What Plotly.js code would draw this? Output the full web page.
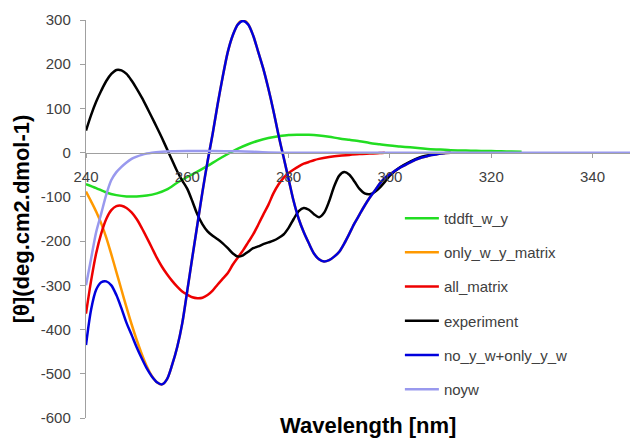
<!DOCTYPE html>
<html>
<head>
<meta charset="utf-8">
<script src="https://cdn.plot.ly/plotly-3.0.1.min.js"></script>
<style>
html,body{margin:0;padding:0;background:#fff;}
#chart{width:630px;height:438px;}
</style>
</head>
<body>
<div id="chart"></div>
<script>
// ---- Data ----
var seriesNames = ["tddft_w_y", "only_w_y_matrix", "all_matrix", "experiment", "no_y_w+only_y_w", "noyw"];

var wlTddft = [240,242,244,246,248,250,252,254,256,258,260,262,264,266,268,270,272,274,276,278,280,282,284,286,288,290,292,294,296,298,300,302,304,306,308,310,312,314,316,318,320,322,324,326];
var tddft = [-71,-80,-90,-96,-99,-99,-97,-92,-83,-68,-55,-43,-30,-16,-3,9,19,27,33,37,40,40.5,40.5,39,36,32,29,26,22,19,16,14,12,10,8,7,5.5,5,4.5,4,3.5,3,2.5,2];

var wlOnlyWY = [240,241,242,243,244,245,246,247,248,249,250,251,252,253,254,255,256,257,258,259,260,261,262,263,264,265,266,267,268,269,270,271,272,273,274,275,276,277,278,279,280,281,282,283,284,285,286,287,288,289,290,291,292,293,294,295,296,297,298,299,300,301,302,303,304,305,306,307,308,309,310,311,312];
var onlyWY = [-88,-110,-133,-160,-192,-230,-270,-310,-350,-388,-423,-455,-483,-505,-519,-524,-512,-480,-440,-386,-312,-236,-162,-88,-20,42,110,172,228,266,291,300,291,265,228,190,145,95,40,-10,-60,-110,-150,-180,-205,-228,-241,-246,-243,-235,-224,-205,-183,-160,-140,-120,-102,-86,-70,-57,-49,-41,-34,-28,-22,-16,-12,-9,-6,-4,-2,-1,0];

var wlAll = [240,241,242,243,244,245,246,247,248,249,250,251,252,253,254,255,256,257,258,259,260,261,262,263,264,265,266,267,268,269,270,271,272,273,274,275,276,277,278,279,280,281,282,283,284,285,286,288,290,292,294,296,298,299];
var allMatrix = [-364,-290,-228,-183,-150,-130,-121,-120,-125,-135,-150,-170,-192,-215,-238,-258,-275,-290,-303,-314,-321,-327,-329,-328,-322,-312,-298,-285,-272,-253,-237,-221,-203,-185,-163,-140,-118,-92,-72,-57,-46,-38,-31,-25,-21,-17,-14,-10,-7,-5,-3,-2,-1,0];

var wlExp = [240,241,242,243,244,245,246,247,248,249,250,251,252,253,254,255,256,257,258,259,260,261,262,263,264,265,266,267,268,269,270,271,272,273,274,275,276,277,278,279,280,281,282,283,284,285,286,287,288,289,290,291,292,293,294,295,296,297,298,299,300,302,304,306,308,310];
var experiment = [50,85,115,140,162,178,187,186,178,163,145,125,103,80,57,33,8,-17,-42,-63,-82,-110,-140,-162,-178,-188,-196,-205,-216,-228,-235,-232,-224,-216,-212,-207,-203,-199,-193,-185,-170,-150,-132,-125,-129,-139,-146,-136,-110,-76,-52,-44,-50,-65,-82,-92,-94,-89,-79,-66,-52,-33,-20,-10,-5,-1];

var wlNoYW = [240,241,242,243,244,245,246,247,248,249,250,251,252,253,254,255,256,257,258,259,260,261,262,263,264,265,266,267,268,269,270,271,272,273,274,275,276,277,278,279,280,281,282,283,284,285,286,287,288,289,290,291,292,293,294,295,296,297,298,299,300,301,302,303,304,305,306,307,308,309,310,311,312];
var noYW = [-435,-355,-310,-293,-291,-300,-322,-352,-385,-412,-440,-465,-488,-506,-519,-524,-512,-480,-440,-386,-312,-236,-162,-88,-20,42,110,172,228,266,290,298,290,265,228,190,145,95,40,-10,-60,-110,-150,-180,-205,-228,-241,-246,-243,-235,-224,-205,-183,-160,-140,-120,-102,-86,-70,-57,-49,-41,-34,-28,-22,-16,-12,-9,-6,-4,-2,-1,0];

var wlNoyw = [240,241,242,243,244,245,246,247,248,249,250,251,252,253,255,257,260,265,270,273,276,280,300,320,340,350];
var noyw = [-300,-240,-180,-138,-95,-62,-44,-32,-22,-14,-9,-5,-2,0,2,3,3.5,3.5,3,2,0.5,0,0,0,0,0];

var xTickVals = [240,260,280,300,320,340];
var xTickText = ["240","260","280","300","320","340"];
var yTickVals = [-600,-500,-400,-300,-200,-100,0,100,200,300];
var yTickText = ["-600","-500","-400","-300","-200","-100","0","100","200","300"];

var colors = ["#22dd22", "#ff9900", "#ee0000", "#000000", "#0000dd", "#9999ee"];

var xs = [wlTddft, wlOnlyWY, wlAll, wlExp, wlNoYW, wlNoyw];
var ys = [tddft, onlyWY, allMatrix, experiment, noYW, noyw];

var traces = seriesNames.map(function(n, i){
  return {
    type: "scatter", mode: "lines", name: n,
    x: xs[i], y: ys[i],
    legendgroup: "g" + i,
    line: {color: colors[i], width: 2.5, shape: "spline", smoothing: 0.8},
    hoverinfo: "skip"
  };
});

var font = "Liberation Sans, Arial, sans-serif";

var layout = {
  width: 630, height: 438,
  margin: {l: 86, r: 0, t: 20, b: 20},
  paper_bgcolor: "#ffffff", plot_bgcolor: "#ffffff",
  font: {family: font, color: "#404040"},
  showlegend: true,
  legend: {
    x: 0.577, xanchor: "left", y: 0.543, yanchor: "top",
    font: {family: font, size: 15, color: "#404040"},
    tracegroupgap: 11.7, itemwidth: 34, bgcolor: "rgba(0,0,0,0)", borderwidth: 0
  },
  xaxis: {
    range: [240, 347.4], anchor: "free", position: 2/3,
    tickmode: "array", tickvals: xTickVals, ticktext: xTickText,
    ticks: "outside", ticklen: 4, tickcolor: "#a0a0a0", tickwidth: 1,
    showline: true, linecolor: "#a0a0a0", linewidth: 1.2,
    showgrid: false, zeroline: false,
    tickfont: {family: font, size: 15, color: "#404040"},
    ticklabelstandoff: 6
  },
  yaxis: {
    range: [-600, 300],
    tickmode: "array", tickvals: yTickVals, ticktext: yTickText,
    ticks: "outside", ticklen: 5, tickcolor: "#a0a0a0", tickwidth: 1,
    showline: true, linecolor: "#a0a0a0", linewidth: 1.2,
    showgrid: false, zeroline: false,
    tickfont: {family: font, size: 15, color: "#404040"},
    ticklabelstandoff: 6,
    title: {text: "[θ](deg.cm2.dmol-1)", font: {family: font, size: 22, color: "#000000", weight: "bold"}, standoff: 5}
  },
  annotations: [{
    text: "<b>Wavelength [nm]</b>", xref: "paper", yref: "paper",
    x: 0.5175, y: 0, xanchor: "center", yanchor: "top", yshift: 7, showarrow: false,
    font: {family: font, size: 22, color: "#000000"}
  }]
};

Plotly.newPlot("chart", traces, layout, {displayModeBar: false, staticPlot: true});
</script>
</body>
</html>
